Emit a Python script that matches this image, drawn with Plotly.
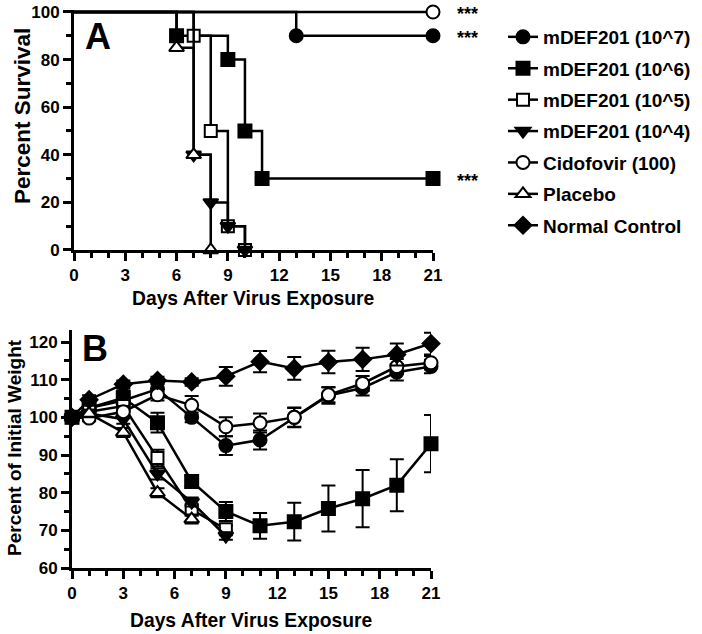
import plotly.graph_objects as go

# ---- Panel A: Kaplan-Meier survival (step points) ----
surv_names = ["mDEF201 (10^7)", "mDEF201 (10^6)", "mDEF201 (10^5)", "mDEF201 (10^4)",
              "Cidofovir (100)", "Placebo"]
surv_days = [
    [0, 13, 21],
    [0, 6, 9, 10, 11, 21],
    [0, 7, 8, 9, 10],
    [0, 7, 8, 9, 10],
    [0, 21],
    [0, 6, 7, 8],
]
surv_pct = [
    [100, 90, 90],
    [100, 90, 80, 50, 30, 30],
    [100, 90, 50, 10, 0],
    [100, 40, 20, 10, 0],
    [100, 100],
    [100, 85, 40, 0],
]
stars_at = [100, 90, 30]

# ---- Panel B: percent of initial weight (mean +/- SEM) ----
group_names = ["mDEF201 (10^7)", "mDEF201 (10^6)", "mDEF201 (10^5)", "mDEF201 (10^4)",
               "Cidofovir (100)", "Placebo", "Normal Control"]
wt_days = [
    [0, 1, 3, 5, 7, 9, 11, 13, 15, 17, 19, 21],
    [0, 1, 3, 5, 7, 9, 11, 13, 15, 17, 19, 21],
    [0, 1, 3, 5, 7, 9],
    [0, 1, 3, 5, 7, 9],
    [0, 1, 3, 5, 7, 9, 11, 13, 15, 17, 19, 21],
    [0, 1, 3, 5, 7],
    [0, 1, 3, 5, 7, 9, 11, 13, 15, 17, 19, 21],
]
wt_mean = [
    [100, 102.5, 104.5, 107.5, 100.0, 92.5, 94.0, 100.0, 105.8, 107.8, 112.0, 113.5],
    [100, 102.5, 105.2, 98.6, 83.0, 75.0, 71.2, 72.3, 75.8, 78.4, 82.0, 93.0],
    [100, 101.5, 103.0, 89.2, 75.5, 70.3],
    [100, 101.0, 99.5, 85.0, 77.5, 68.5],
    [100, 99.8, 101.5, 106.0, 103.2, 97.5, 98.5, 100.0, 106.0, 109.0, 113.5, 114.5],
    [100, 101.0, 96.0, 80.0, 73.0],
    [100, 104.7, 108.8, 109.8, 109.4, 110.9, 114.8, 113.0, 114.7, 115.4, 116.7, 119.6],
]
wt_err = [
    [0.5, 1.2, 1.5, 1.5, 1.3, 2.5, 2.5, 2.6, 2.2, 2.0, 2.2, 1.8],
    [0.5, 1.0, 2.0, 2.6, 1.5, 2.5, 3.4, 5.0, 6.1, 7.6, 6.9, 7.6],
    [0.5, 1.0, 1.2, 2.2, 1.2, 1.0],
    [0.5, 1.0, 1.2, 1.5, 1.2, 1.0],
    [0.5, 0.8, 1.5, 1.5, 2.5, 2.5, 2.5, 2.5, 2.0, 2.0, 2.0, 1.8],
    [0.5, 1.0, 1.2, 1.2, 1.2],
    [0.5, 1.2, 1.0, 1.0, 1.0, 2.5, 2.8, 3.0, 3.0, 3.1, 2.9, 2.9],
]

# marker styles (symbol, fill, size)
styles = [
    ("circle", "black", 13),
    ("square", "black", 13),
    ("square", "white", 12),
    ("triangle-down", "black", 13),
    ("circle", "white", 13),
    ("triangle-up", "white", 13),
    ("diamond", "black", 13),
]

FONT = "Liberation Sans, Arial, sans-serif"
W, H = 702, 634


def px(x, y):
    # pixel position -> paper coords
    return x / W, 1 - y / H


fig = go.Figure()

# panel A traces: step lines, markers only at events/censoring
for i, name in enumerate(surv_names):
    sym, fill, sz = styles[i]
    sizes = [0] + [sz] * (len(surv_days[i]) - 1)
    fig.add_trace(go.Scatter(
        x=surv_days[i], y=surv_pct[i], mode="lines+markers",
        line=dict(color="black", width=2.5, shape="hv"),
        marker=dict(symbol=sym, color=fill, size=sizes, opacity=1,
                    line=dict(color="black", width=2)),
        cliponaxis=False, showlegend=False, xaxis="x", yaxis="y",
    ))

# panel B traces (these carry the legend)
for i, name in enumerate(group_names):
    sym, fill, sz = styles[i]
    fig.add_trace(go.Scatter(
        x=wt_days[i], y=wt_mean[i], mode="lines+markers", name=name,
        legendgroup=name,
        line=dict(color="black", width=2.5),
        marker=dict(symbol=sym, color=fill, size=sz, opacity=1,
                    line=dict(color="black", width=2)),
        error_y=dict(type="data", array=wt_err[i], color="black",
                     thickness=2, width=7),
        cliponaxis=False, xaxis="x2", yaxis="y2",
    ))

# significance stars next to panel A end points
for yv in stars_at:
    fig.add_annotation(x=21, y=yv, xref="x", yref="y", text="***",
                       showarrow=False, xshift=34, yshift=-2,
                       font=dict(family=FONT, size=18, color="black", weight="bold"))

# panel letters
for letter, (lx, ly) in (("A", (83, 14)), ("B", (80, 326))):
    x0, y0 = px(lx, ly)
    fig.add_annotation(x=x0, y=y0, xref="paper", yref="paper", text=letter,
                       showarrow=False, xanchor="left", yanchor="top",
                       font=dict(family=FONT, size=36, color="black", weight="bold"))

# axis titles placed as annotations
def title(text, x, y, size, angle=0):
    x0, y0 = px(x, y)
    fig.add_annotation(x=x0, y=y0, xref="paper", yref="paper", text=text,
                       showarrow=False, xanchor="center", yanchor="middle",
                       textangle=angle,
                       font=dict(family=FONT, size=size, color="black", weight="bold"))


title("Days After Virus Exposure", 253, 298, 19.3)
title("Days After Virus Exposure", 251, 620, 19.3)
title("Percent Survival", 23, 116, 22.5, -90)
title("Percent of Initial Weight", 14, 448, 19, -90)

tickfont = dict(family=FONT, size=17, color="black", weight="bold")
minor_x = dict(dtick=1, tick0=0, ticks="outside", ticklen=5, tickwidth=3, tickcolor="black")

axis_common = dict(
    showline=True, linecolor="black", linewidth=3, showgrid=False, zeroline=False,
    ticks="outside", ticklen=8, tickwidth=3, tickcolor="black", tickfont=tickfont,
    automargin=False,
)

# panel A: a touch of headroom so the 100% line is not half clipped
a_top = 12 - 0.8 * 238 / 100

fig.update_layout(
    width=W, height=H,
    margin=dict(l=0, r=0, t=0, b=0),
    paper_bgcolor="white", plot_bgcolor="white",
    font=dict(family=FONT, color="black"),
    xaxis=dict(domain=[74 / W, 433 / W], range=[0, 21], anchor="y",
               tickvals=[0, 3, 6, 9, 12, 15, 18, 21], minor=minor_x, **axis_common),
    yaxis=dict(domain=[1 - 250 / H, 1 - a_top / H], range=[0, 100.8], anchor="x",
               tickvals=[0, 20, 40, 60, 80, 100],
               minor=dict(dtick=10, tick0=0, ticks="outside", ticklen=5, tickwidth=3,
                          tickcolor="black"),
               **axis_common),
    xaxis2=dict(domain=[72 / W, 431 / W], range=[0, 21], anchor="y2",
                tickvals=[0, 3, 6, 9, 12, 15, 18, 21], minor=minor_x, **axis_common),
    yaxis2=dict(domain=[1 - 568 / H, 1 - 330 / H], range=[60, 123.2], anchor="x2",
                tickvals=[60, 70, 80, 90, 100, 110, 120],
                minor=dict(dtick=5, tick0=60, ticks="outside", ticklen=5, tickwidth=3,
                           tickcolor="black"),
                **axis_common),
    legend=dict(x=503 / W, y=1 - 18 / H, xanchor="left", yanchor="top",
                font=dict(family=FONT, size=19, color="black", weight="bold"),
                tracegroupgap=3.7, itemwidth=30, bgcolor="rgba(0,0,0,0)"),
)

# drop the browser's default body margin so the figure sits at the page origin
fig.write_html("out.html", config={"displayModeBar": False},
               post_script="document.body.style.margin='0px';")
